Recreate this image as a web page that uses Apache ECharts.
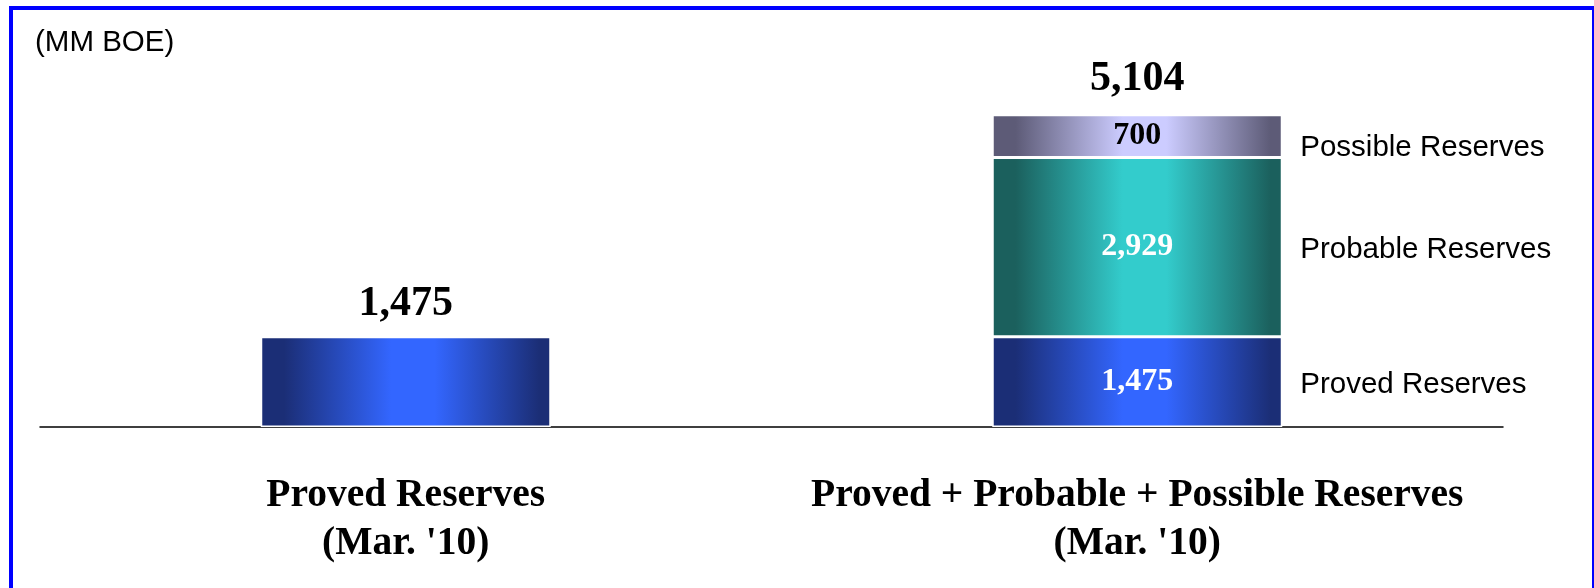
<!DOCTYPE html>
<html>
<head>
<meta charset="utf-8">
<script src="https://cdn.jsdelivr.net/npm/echarts@6/dist/echarts.min.js"></script>
<style>
  html, body { margin: 0; padding: 0; background: #fff; }
  #wrap { position: relative; width: 1594px; height: 588px; overflow: hidden; }
  #chart { position: absolute; left: 0; top: 0; width: 1594px; height: 588px; }
  #frame {
    position: absolute; left: 9px; top: 6px; right: 0; bottom: -10px;
    border-left: 4px solid #0000ff; border-top: 4px solid #0000ff; border-right: 2px solid #0000ff;
    pointer-events: none;
  }
</style>
</head>
<body>
<div id="wrap">
  <div id="chart"></div>
  <div id="frame"></div>
</div>
<script>
// Reserves (MM BOE), March 2010
const categories = ["Proved Reserves\n(Mar. '10)", "Proved + Probable + Possible Reserves\n(Mar. '10)"];
const segmentNames = ['Proved Reserves', 'Probable Reserves', 'Possible Reserves'];
const proved = [1475, 1475];
const probable = [null, 2929];
const possible = [null, 700];
const unitLabel = '(MM BOE)';

const fmt = v => Number(v).toLocaleString('en-US');
const total = proved.map((p, i) => (p || 0) + (probable[i] || 0) + (possible[i] || 0));

const SERIF = '"Liberation Serif", "DejaVu Serif", serif';
const SANS = '"Liberation Sans", Arial, sans-serif';

function shade(dark, light) {
  return new echarts.graphic.LinearGradient(0, 0, 1, 0, [
    { offset: 0, color: dark },
    { offset: 0.08, color: dark },
    { offset: 0.45, color: light },
    { offset: 0.6, color: light },
    { offset: 0.96, color: dark },
    { offset: 1, color: dark }
  ]);
}

const BAR_W = 290;
const innerLabel = (color) => ({
  show: true, position: 'inside', color: color,
  fontFamily: SERIF, fontWeight: 'bold', fontSize: 32,
  formatter: p => fmt(p.value)
});
const topLabel = (distance) => ({
  show: true, position: 'top', distance: distance, color: '#000',
  fontFamily: SERIF, fontWeight: 'bold', fontSize: 42,
  formatter: p => fmt(p.value)
});
const nameLabel = (offsetY) => ({
  show: true, position: 'right', distance: 18, color: '#000',
  fontFamily: SANS, fontSize: 29.5, offset: [0, offsetY],
  formatter: p => p.seriesName
});

// transparent twin of a segment, used only to print its name to the right
function nameSeries(name, values, offsetY) {
  return {
    name: name, type: 'bar', stack: 'names', barWidth: BAR_W, barGap: '-100%',
    data: values.map((v, i) => (i === 0 ? null : v)),
    itemStyle: { color: 'rgba(0,0,0,0)' },
    label: nameLabel(offsetY), silent: true, z: 1
  };
}

const chart = echarts.init(document.getElementById('chart'), null, { renderer: 'canvas' });
chart.setOption({
  animation: false,
  title: {
    text: unitLabel, left: 30, top: 23,
    textStyle: { fontFamily: SANS, fontSize: 29.5, fontWeight: 'normal', color: '#000' }
  },
  grid: { left: 40, right: 91, top: 60, bottom: 161, containLabel: false },
  xAxis: {
    type: 'category', data: categories,
    axisLine: { show: true, lineStyle: { color: '#000', width: 1.5 } },
    axisTick: { show: false },
    axisLabel: {
      margin: 45, color: '#000', fontFamily: SERIF, fontWeight: 'bold',
      fontSize: 39.5, lineHeight: 48, interval: 0
    }
  },
  yAxis: { type: 'value', min: 0, max: 6000, show: false, splitLine: { show: false } },
  series: [
    {
      name: segmentNames[0], type: 'bar', stack: 'res', barWidth: BAR_W, barGap: '-100%', z: 3,
      itemStyle: { color: shade('#1b2e76', '#3366ff'), borderColor: '#ffffff', borderWidth: 1.5 },
      data: proved.map((v, i) => ({
        value: v,
        label: i === 0 ? topLabel(12) : innerLabel('#ffffff')
      }))
    },
    {
      name: segmentNames[1], type: 'bar', stack: 'res', barWidth: BAR_W, z: 3,
      itemStyle: { color: shade('#1b605d', '#33cccc'), borderColor: '#ffffff', borderWidth: 1.5 },
      label: innerLabel('#ffffff'),
      data: probable
    },
    {
      name: segmentNames[2], type: 'bar', stack: 'res', barWidth: BAR_W, z: 3,
      itemStyle: { color: shade('#5d5b77', '#ccccff'), borderColor: '#ffffff', borderWidth: 1.5 },
      label: innerLabel('#000000'),
      data: possible
    },
    nameSeries(segmentNames[0], proved, 3),
    nameSeries(segmentNames[1], probable, 3),
    nameSeries(segmentNames[2], possible, 12),
    {
      name: 'Total', type: 'bar', stack: 'total', barWidth: BAR_W, z: 1, silent: true,
      itemStyle: { color: 'rgba(0,0,0,0)' },
      data: total.map((v, i) => (i === 0 ? null : v)),
      label: topLabel(15)
    }
  ]
});
</script>
</body>
</html>
